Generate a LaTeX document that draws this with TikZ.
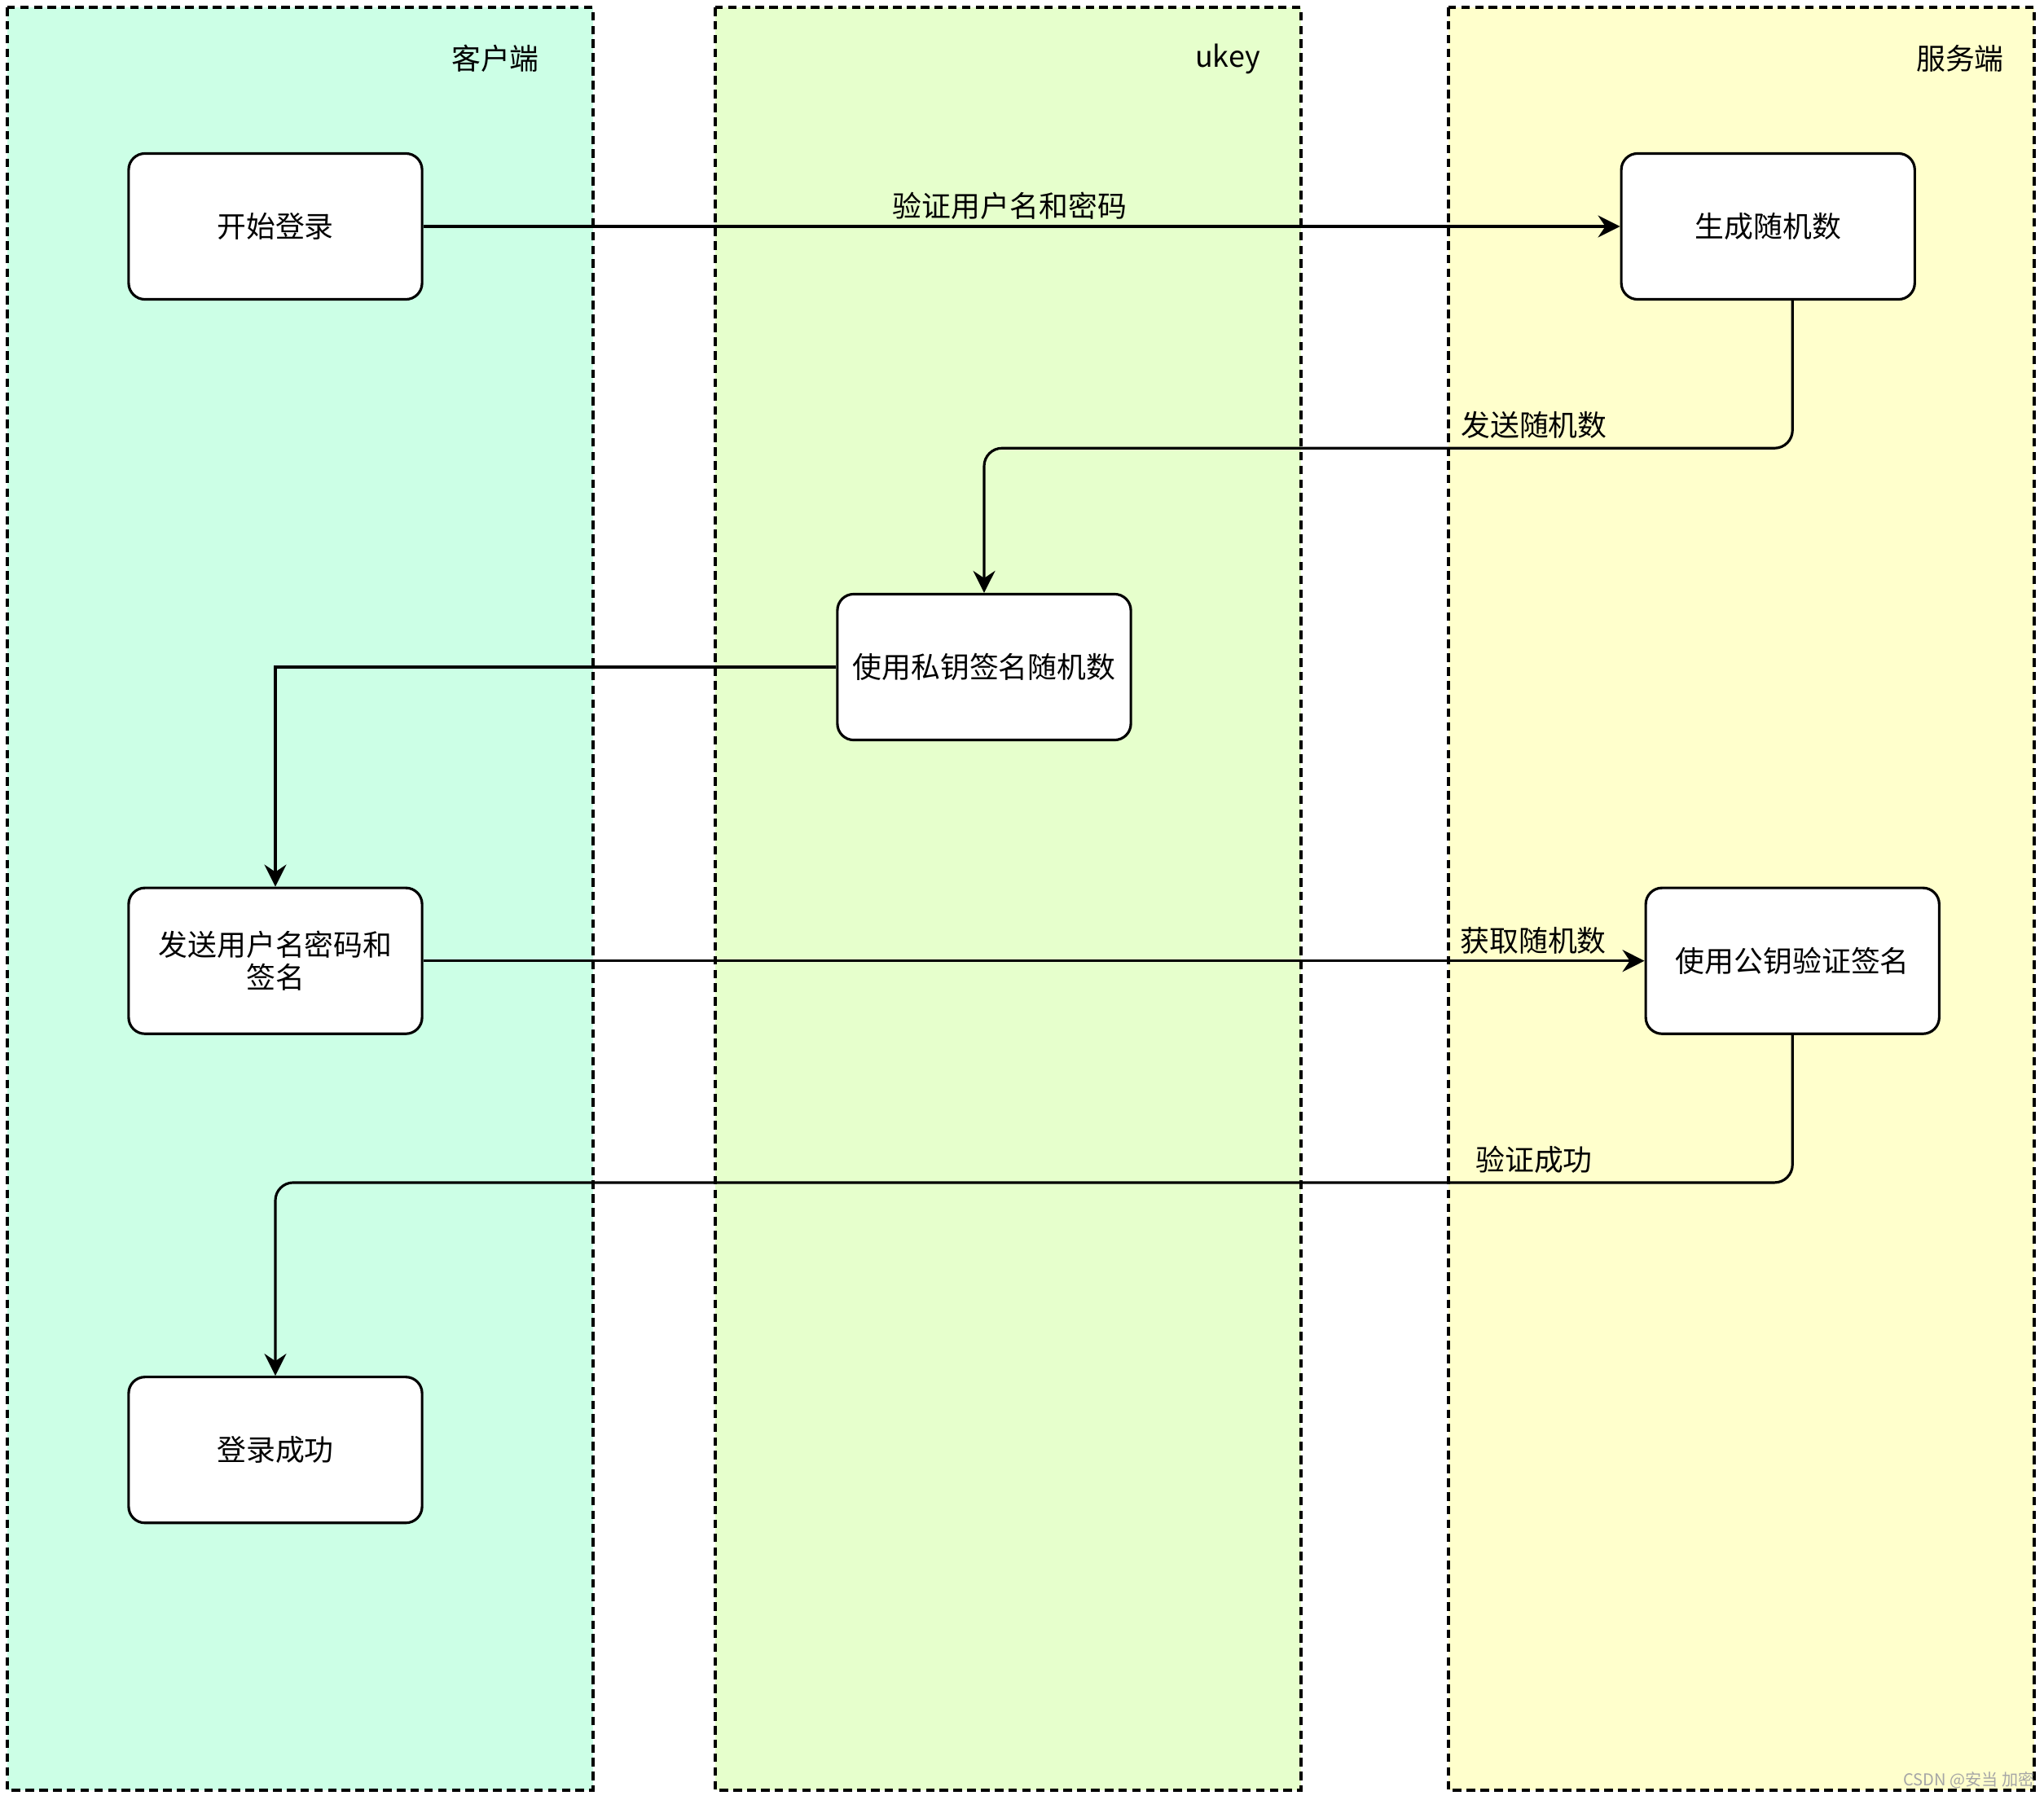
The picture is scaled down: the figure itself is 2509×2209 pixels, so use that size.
\documentclass[tikz,border=0pt]{standalone}
\usepackage{fontspec}
\setmainfont{Noto Sans CJK SC}
\usepackage{xcolor}
\usetikzlibrary{arrows.meta, positioning, calc}
\definecolor{clientlane}{HTML}{CCFFE6}
\definecolor{ukeylane}{HTML}{E6FFCC}
\definecolor{serverlane}{HTML}{FFFFCC}
\tikzstyle{lane} = [draw=black, line width=0.9pt, dash pattern=on 3pt off 1.8pt]
\tikzstyle{action} = [rectangle, rounded corners=0.2cm, minimum width=3.6cm, minimum height=1.79cm, text centered, align=center, draw=black, fill=white, line width=0.9pt]
\tikzstyle{arrow} = [line width=0.9pt, -{Stealth[length=2.7mm, width=2.7mm, inset=0.9mm]}]
\tikzstyle{edgelabel} = [inner sep=2pt]

\begin{document}
\begin{tikzpicture}[x=0.01cm, y=-0.01cm, font=\fontsize{10.2}{11.4}\selectfont]
    \useasboundingbox (0,0) rectangle (2509,2209);

    % Swimlanes
    \draw [lane, fill=clientlane] (9,9) rectangle (728,2198);
    \draw [lane, fill=ukeylane] (878,9) rectangle (1597,2198);
    \draw [lane, fill=serverlane] (1778,9) rectangle (2497,2198);
    \node (clienttitle) at (608,72) {客户端};
    \node (ukeytitle) at (1507,72) {ukey};
    \node (servertitle) at (2406,72) {服务端};

    % Steps
    \node (start) [action] at (338,278) {开始登录};
    \node (genrand) [action, right=14.68cm of start] {生成随机数};
    \node (signrand) [action] at (1208,819) {使用私钥签名随机数};
    \node (sendsig) [action, below=7.19cm of start] {发送用户名密码和\\签名};
    \node (verify) [action, right=14.98cm of sendsig] {使用公钥验证签名};
    \node (success) [action, below=4.18cm of sendsig] {登录成功};

    % Arrows
    \draw [arrow] (start) -- node[edgelabel, above, pos=0.49] (lblcheck) {验证用户名和密码} (genrand);
    \draw [arrow, rounded corners=0.22cm] ([xshift=0.3cm]genrand.south) -- ++(0,-1.81cm) -| (signrand.north);
    \draw [arrow] (signrand.west) -| (sendsig.north);
    \draw [arrow] (sendsig) -- node[edgelabel, above, pos=0.909] (lblfetch) {获取随机数} (verify);
    \draw [arrow, rounded corners=0.22cm] (verify.south) -- ++(0,-1.81cm) -| (success.north);
    \node (lblsend) at (1883,522) {发送随机数};
    \node (lblok) at (1883,1424) {验证成功};

    % Watermark
    \node (mark) [text=gray!70, font=\fontsize{5.7}{6}\selectfont] at (2417,2186) {CSDN @安当 加密};
\end{tikzpicture}
\end{document}
